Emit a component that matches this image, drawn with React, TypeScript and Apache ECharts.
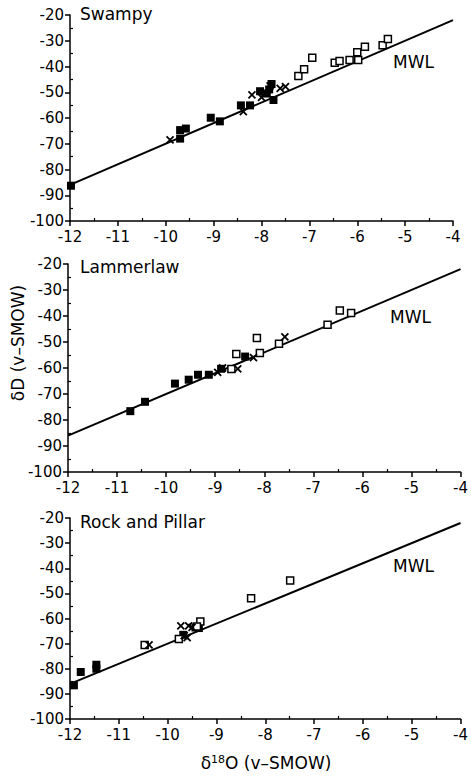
import React, { useEffect, useRef } from "react";
import * as echarts from "echarts";

// MWL: meteoric water line endpoints (dD = 8 d18O + 10)
const mwl: number[][] = [[-12, -86], [-4, -22]];

const panelTitles = ["Swampy", "Lammerlaw", "Rock and Pillar"];

// Swampy
const swampyFilled: number[][] = [
  [-11.98, -86.3], [-9.7, -64.7], [-9.7, -68.0], [-9.58, -64.1], [-9.06, -59.9],
  [-8.87, -61.3], [-8.43, -55.1], [-8.24, -55.1], [-8.03, -49.6], [-7.89, -50.5],
  [-7.84, -48.9], [-7.79, -46.8], [-7.75, -53.0],
];
const swampyCross: number[][] = [
  [-9.91, -68.5], [-8.38, -57.5], [-8.2, -51.0], [-8.0, -52.0], [-7.93, -50.0],
  [-7.82, -47.5], [-7.61, -48.5], [-7.5, -47.8],
];
const swampyOpen: number[][] = [
  [-7.23, -43.7], [-7.11, -41.1], [-6.94, -36.6], [-6.47, -38.5], [-6.37, -37.9],
  [-6.16, -37.5], [-5.98, -37.5], [-6.0, -34.5], [-5.84, -32.3], [-5.47, -31.7],
  [-5.36, -29.3],
];

// Lammerlaw
const lamFilled: number[][] = [
  [-10.73, -76.6], [-10.43, -73.0], [-9.82, -66.0], [-9.54, -64.5], [-9.35, -62.6],
  [-9.13, -62.6], [-8.88, -60.3], [-8.39, -55.6],
];
const lamCross: number[][] = [
  [-8.95, -61.7], [-8.85, -60.0], [-8.54, -60.3], [-8.22, -56.0], [-7.58, -48.0],
];
const lamOpen: number[][] = [
  [-8.67, -60.4], [-8.57, -54.6], [-8.15, -48.5], [-8.09, -54.2], [-7.7, -50.7],
  [-6.71, -43.4], [-6.46, -37.9], [-6.23, -38.8],
];

// Rock and Pillar
const rockFilled: number[][] = [
  [-11.92, -86.6], [-11.78, -81.3], [-11.46, -78.4], [-11.46, -80.0], [-9.68, -66.5],
  [-9.43, -63.6], [-9.36, -63.8],
];
const rockCross: number[][] = [
  [-10.38, -70.5], [-9.73, -62.9], [-9.57, -62.9], [-9.6, -67.6], [-9.5, -63.5],
  [-9.66, -66.8],
];
const rockOpen: number[][] = [
  [-10.47, -70.5], [-9.77, -68.2], [-9.33, -61.2], [-9.4, -63.2], [-8.29, -51.9],
  [-7.49, -44.9],
];

const filledSets = [swampyFilled, lamFilled, rockFilled];
const crossSets = [swampyCross, lamCross, rockCross];
const openSets = [swampyOpen, lamOpen, rockOpen];

const xTicks = { min: -12, max: -4, interval: 1 };
const yTicks = { min: -100, max: -20, interval: 10 };

const FONT = "DejaVu Sans";

export default function App() {
  const ref = useRef<HTMLDivElement>(null);
  useEffect(() => {
    if (!ref.current) return;
    const chart = echarts.init(ref.current, null, { renderer: "svg" });
    const grids = [
      { left: 70, top: 15, width: 383, height: 206 },
      { left: 68, top: 264, width: 395, height: 208 },
      { left: 70, top: 518, width: 395, height: 201 },
    ];
    const axisCommon = {
      type: "value",
      axisLine: { show: true, onZero: false, lineStyle: { color: "#000", width: 1.5 } },
      axisTick: { show: true, length: 5, lineStyle: { color: "#000", width: 1.5 } },
      minorTick: { show: true, splitNumber: 2, length: -3, lineStyle: { color: "#000", width: 1.2 } },
      splitLine: { show: false },
      minorSplitLine: { show: false },
    };
    const xAxis = grids.map((_, i) => ({
      ...axisCommon,
      gridIndex: i,
      ...xTicks,
      axisLabel: { color: "#000", fontSize: 15, fontFamily: FONT, margin: 8 },
    }));
    const yAxis = grids.map((_, i) => ({
      ...axisCommon,
      gridIndex: i,
      ...yTicks,
      axisLabel: { color: "#000", fontSize: 15, fontFamily: FONT, margin: 6 },
    }));
    const series: any[] = [];
    grids.forEach((_, i) => {
      series.push({
        type: "line",
        xAxisIndex: i,
        yAxisIndex: i,
        data: mwl,
        showSymbol: false,
        symbol: "none",
        lineStyle: { color: "#000", width: 2 },
        z: 1,
      });
      series.push({
        type: "scatter",
        xAxisIndex: i,
        yAxisIndex: i,
        data: filledSets[i],
        symbol: "rect",
        symbolSize: 8,
        itemStyle: { color: "#000", opacity: 1 },
        z: 3,
      });
      series.push({
        type: "scatter",
        xAxisIndex: i,
        yAxisIndex: i,
        data: openSets[i],
        symbol: "rect",
        symbolSize: 7,
        itemStyle: { color: "#fff", borderColor: "#000", borderWidth: 1.5, opacity: 1 },
        z: 3,
      });
      series.push({
        type: "scatter",
        xAxisIndex: i,
        yAxisIndex: i,
        data: crossSets[i],
        symbol: "path://M0 0L10 10M10 0L0 10",
        symbolSize: 7,
        itemStyle: { color: "rgba(0,0,0,0)", borderColor: "#000", borderWidth: 1.8, opacity: 1 },
        z: 4,
      });
    });
    const titleY = [14, 267, 522];
    const mwlPos = [
      [393, 62],
      [390, 317],
      [393, 566],
    ];
    const graphic: any[] = [];
    panelTitles.forEach((t, i) => {
      graphic.push({
        type: "text",
        x: 80,
        y: titleY[i],
        style: { text: t, fontSize: 17, fontFamily: FONT, fill: "#000", verticalAlign: "middle" },
      });
      graphic.push({
        type: "text",
        x: mwlPos[i][0],
        y: mwlPos[i][1],
        style: { text: "MWL", fontSize: 17, fontFamily: FONT, fill: "#000", verticalAlign: "middle" },
      });
    });
    graphic.push({
      type: "text",
      x: 18,
      y: 343,
      rotation: Math.PI / 2,
      style: {
        text: "δD (v–SMOW)",
        fontSize: 17,
        fontFamily: FONT,
        fill: "#000",
        align: "center",
        verticalAlign: "middle",
      },
    });
    graphic.push({
      type: "text",
      x: 266,
      y: 763,
      style: {
        text: "{a|δ}{s|18}{a|O (v–SMOW)}",
        align: "center",
        verticalAlign: "middle",
        rich: {
          a: { fontSize: 17, fontFamily: FONT, fill: "#000" },
          s: { fontSize: 11, fontFamily: FONT, fill: "#000", verticalAlign: "top", padding: [0, 0, 8, 0] },
        },
      },
    });
    chart.setOption({
      animation: false,
      backgroundColor: "#fff",
      grid: grids,
      xAxis,
      yAxis,
      series,
      graphic,
    });
    return () => chart.dispose();
  }, []);
  return (
    <div
      ref={ref}
      style={{ position: "absolute", left: 0, top: 0, width: 471, height: 778 }}
    />
  );
}
